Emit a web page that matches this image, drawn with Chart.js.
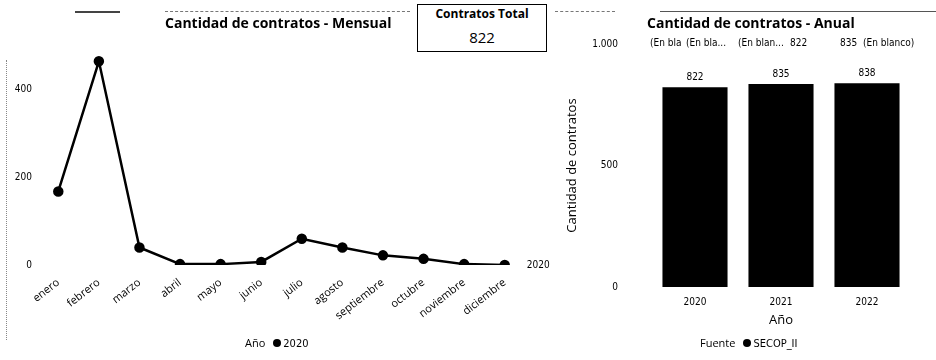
<!DOCTYPE html>
<html>
<head>
<meta charset="utf-8">
<script src="https://cdn.jsdelivr.net/npm/chart.js@4"></script>
<style>
  html, body { margin:0; padding:0; background:#fff; }
  body { width:936px; height:360px; position:relative; overflow:hidden; font-family:"Open Sans", sans-serif; color:#000; }
  .abs { position:absolute; white-space:nowrap; }
  #c1 { position:absolute; left:0; top:0; }
  #c2 { position:absolute; left:560px; top:0; }
  .title { font-weight:700; font-size:14px; }
  #box { position:absolute; left:417px; top:4px; width:128px; height:46px; border:1.5px solid #000; text-align:center; background:#fff; }
  #box .h { font-weight:700; font-size:12px; line-height:14px; margin-top:2px; font-family:"Open Sans", sans-serif; }
  #box .v { font-size:15px; line-height:20px; margin-top:6px; }
  .small { font-size:10px; font-family:"DejaVu Sans Condensed","DejaVu Sans",sans-serif; }
  .dot { display:inline-block; width:8px; height:8px; border-radius:50%; background:#000; vertical-align:middle; margin:0 2px 2px 8px; }
  .scan { position:absolute; border-top:1px dashed #777; height:0; }
</style>
</head>
<body>
<canvas id="c1" width="560" height="360"></canvas>
<canvas id="c2" width="376" height="360"></canvas>

<div class="scan" style="left:75px;top:11px;width:45px;border-top:2px solid #444"></div>
<div class="scan" style="left:165px;top:11px;width:245px;"></div>
<div class="scan" style="left:555px;top:11px;width:60px;"></div>
<div class="scan" style="left:660px;top:11px;width:276px;border-top:1px solid #555"></div>
<div class="abs" style="left:6px;top:60px;height:280px;border-left:1px dotted #888;"></div>

<div class="abs title" style="left:165px;top:13px;">Cantidad de contratos - Mensual</div>
<div id="box"><div class="h">Contratos Total</div><div class="v" id="totalVal"></div></div>
<div class="abs title" style="left:647px;top:13px;">Cantidad de contratos - Anual</div>
<div class="abs small" id="topRow" style="left:650px;top:37px;"></div>
<div class="abs" style="left:245px;top:335px;font-size:11px;">Año<span class="dot"></span><span id="leg1" style="font-family:'DejaVu Sans Condensed','DejaVu Sans',sans-serif;"></span></div>
<div class="abs" style="left:700px;top:335px;font-size:11px;">Fuente<span class="dot"></span><span id="leg2" style="font-family:'DejaVu Sans Condensed','DejaVu Sans',sans-serif;"></span></div>

<script>
// ---- Data ----
const months = ["enero","febrero","marzo","abril","mayo","junio","julio","agosto","septiembre","octubre","noviembre","diciembre"];
const monthly2020 = [168, 465, 40, 2, 2, 7, 60, 40, 22, 14, 2, 0];
const lineSeriesName = "2020";
const years = ["2020","2021","2022"];
const yearlyTotals = [822, 835, 838];
const barSeriesName = "SECOP_II";
const totalContracts = 822;
const leftTicks = [0, 200, 400];
const rightTicks = [0, 500, 1000];
const topRowLabels = ["(En bla", "(En bla...", "(En blan...", "822", "835", "(En blanco)"];
const topRowX = [0, 36, 88, 140, 190, 213];

// ---- DOM text ----
document.getElementById('totalVal').textContent = totalContracts;
document.getElementById('leg1').textContent = lineSeriesName;
document.getElementById('leg2').textContent = barSeriesName;
const tr = document.getElementById('topRow');
topRowLabels.forEach((t, i) => {
  const s = document.createElement('span');
  s.className = 'abs';
  s.style.left = topRowX[i] + 'px';
  s.textContent = t;
  tr.appendChild(s);
});

function fmt(v) { return String(v).replace(/\B(?=(\d{3})+(?!\d))/g, '.'); }

const tickFont = { family: "'DejaVu Sans Condensed', 'DejaVu Sans', sans-serif", size: 10 };
const labelFont = { family: "'Open Sans', sans-serif", size: 11 };

// ---- Line chart ----
const endLabel = {
  id: 'endLabel',
  afterDatasetsDraw(chart) {
    const meta = chart.getDatasetMeta(0);
    const p = meta.data[meta.data.length - 1];
    const ctx = chart.ctx;
    ctx.save();
    ctx.fillStyle = '#000';
    ctx.font = "10px 'DejaVu Sans Condensed', 'DejaVu Sans', sans-serif";
    ctx.textBaseline = 'middle';
    ctx.fillText(chart.data.datasets[0].label, p.x + 22, p.y);
    ctx.restore();
  }
};

new Chart(document.getElementById('c1'), {
  type: 'line',
  data: {
    labels: months,
    datasets: [{
      label: lineSeriesName,
      data: monthly2020,
      borderColor: '#000',
      backgroundColor: '#000',
      borderWidth: 2.5,
      pointRadius: 4,
      pointBackgroundColor: '#000',
      pointBorderColor: '#000',
      tension: 0
    }]
  },
  options: {
    responsive: false,
    animation: false,
    layout: { padding: { left: 0, right: 35, top: 46, bottom: 35 } },
    plugins: { legend: { display: false }, title: { display: false }, tooltip: { enabled: false } },
    scales: {
      x: {
        offset: true,
        grid: { display: false },
        border: { display: false },
        ticks: { color: '#000', font: labelFont, minRotation: 38, maxRotation: 38, padding: 3, autoSkip: false },
        afterFit(s) { s.height = 60; }
      },
      y: {
        min: 0, max: 500,
        grid: { display: false, drawTicks: false },
        border: { display: false },
        ticks: { color: '#000', font: tickFont, padding: 6 },
        afterBuildTicks(s) { s.ticks = leftTicks.map(v => ({ value: v })); },
        afterFit(s) { s.width = 38; }
      }
    }
  },
  plugins: [endLabel]
});

// ---- Bar chart ----
const barLabels = {
  id: 'barLabels',
  afterDatasetsDraw(chart) {
    const meta = chart.getDatasetMeta(0);
    const ctx = chart.ctx;
    ctx.save();
    ctx.fillStyle = '#000';
    ctx.font = "10px 'DejaVu Sans Condensed', 'DejaVu Sans', sans-serif";
    ctx.textAlign = 'center';
    ctx.textBaseline = 'bottom';
    meta.data.forEach((b, i) => {
      ctx.fillText(fmt(chart.data.datasets[0].data[i]), b.x, b.y - 5);
    });
    ctx.restore();
  }
};

new Chart(document.getElementById('c2'), {
  type: 'bar',
  data: {
    labels: years,
    datasets: [{
      label: barSeriesName,
      data: yearlyTotals,
      backgroundColor: '#000',
      borderWidth: 0,
      barPercentage: 0.86,
      categoryPercentage: 0.88
    }]
  },
  options: {
    responsive: false,
    animation: false,
    layout: { padding: { left: 4, right: 26, top: 44, bottom: 32 } },
    plugins: { legend: { display: false }, title: { display: false }, tooltip: { enabled: false } },
    scales: {
      x: {
        grid: { display: false, drawTicks: false },
        border: { display: false },
        ticks: { color: '#000', font: tickFont, padding: 9 },
        title: { display: true, text: 'Año', color: '#000', font: { family: "'Open Sans', sans-serif", size: 13 }, padding: { top: 0, bottom: 0 } },
        afterFit(s) { s.height = 41; }
      },
      y: {
        min: 0, max: 1000,
        grid: { display: false, drawTicks: false },
        border: { display: false },
        ticks: { color: '#000', font: tickFont, padding: 34, callback: v => fmt(v) },
        afterBuildTicks(s) { s.ticks = rightTicks.map(v => ({ value: v })); },
        title: { display: true, text: 'Cantidad de contratos', color: '#000', font: { family: "'Open Sans', sans-serif", size: 13 }, padding: { top: 0, bottom: 0 } },
        afterFit(s) { s.width = 88; }
      }
    }
  },
  plugins: [barLabels]
});
</script>
</body>
</html>
